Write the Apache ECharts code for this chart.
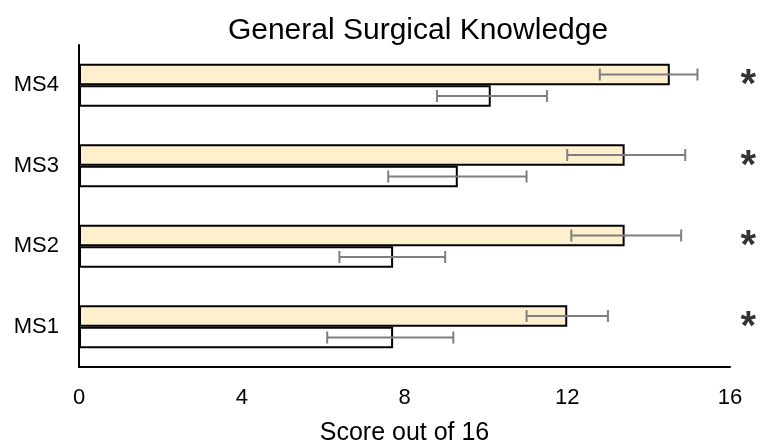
<!DOCTYPE html>
<html>
<head>
<meta charset="utf-8">
<script src="https://cdn.jsdelivr.net/npm/echarts@6/dist/echarts.min.js"></script>
<style>html,body{margin:0;padding:0;background:#fff}#c{width:762px;height:442px}</style>
</head>
<body>
<div id="c"></div>
<script>
var categories = ['MS1', 'MS2', 'MS3', 'MS4'];
var controlMean = [7.72, 7.72, 9.31, 10.12];
var controlLow = [6.1, 6.4, 7.6, 8.8];
var controlHigh = [9.2, 9.0, 11.0, 11.5];
var interventionMean = [12.0, 13.41, 13.41, 14.52];
var interventionLow = [11.0, 12.1, 12.0, 12.8];
var interventionHigh = [13.0, 14.8, 14.9, 15.2];
var significance = ['*', '*', '*', '*'];
var xTicks = [0, 4, 8, 12, 16];

var FONT = '"Liberation Sans", Arial, sans-serif';
var BAR_RATIO = 0.267;
var STAR_X = 16.45;

function errData(low, high) {
  return categories.map(function (c, i) { return [i, low[i], high[i]]; });
}
function makeErr(dir) {
  return function (params, api) {
    var cat = api.value(0);
    var p1 = api.coord([api.value(1), cat]);
    var p2 = api.coord([api.value(2), cat]);
    var band = api.size([0, 1])[1];
    var y = p1[1] + dir * band * BAR_RATIO / 2;
    var cap = 6;
    var st = { stroke: '#7f7f7f', lineWidth: 2 };
    return {
      type: 'group',
      children: [
        { type: 'line', shape: { x1: p1[0], y1: y, x2: p2[0], y2: y }, style: st },
        { type: 'line', shape: { x1: p1[0], y1: y - cap, x2: p1[0], y2: y + cap }, style: st },
        { type: 'line', shape: { x1: p2[0], y1: y - cap, x2: p2[0], y2: y + cap }, style: st }
      ]
    };
  };
}

var chart = echarts.init(document.getElementById('c'));
chart.setOption({
  animation: false,
  backgroundColor: '#fff',
  title: {
    text: 'General Surgical Knowledge',
    left: 413, top: 11, textAlign: 'center',
    textStyle: { fontFamily: FONT, fontSize: 30, fontWeight: 'normal', color: '#000' }
  },
  grid: { left: 79, right: 32, top: 45, bottom: 75, containLabel: false, outerBoundsMode: 'none' },
  xAxis: {
    type: 'value', min: 0, max: 16, interval: 4,
    axisLine: { show: true, lineStyle: { color: '#000', width: 2 } },
    axisTick: { show: false },
    splitLine: { show: false },
    axisLabel: { fontFamily: FONT, fontSize: 22, color: '#000', margin: 20,
      formatter: function (v) { return xTicks.indexOf(v) >= 0 ? String(v) : ''; } },
    name: 'Score out of 16', nameLocation: 'middle', nameGap: 54,
    nameTextStyle: { fontFamily: FONT, fontSize: 25, color: '#000' }
  },
  yAxis: {
    type: 'category', data: categories,
    axisLine: { show: true, lineStyle: { color: '#000', width: 2 } },
    axisTick: { show: false },
    axisLabel: { fontFamily: FONT, fontSize: 22, color: '#000', margin: 20 }
  },
  series: [
    {
      type: 'bar', name: 'Intervention', data: interventionMean,
      barWidth: (BAR_RATIO * 100) + '%', barGap: '0%',
      itemStyle: { color: '#fff0cd', borderColor: '#000', borderWidth: 2 }
    },
    {
      type: 'bar', name: 'Control', data: controlMean,
      barWidth: (BAR_RATIO * 100) + '%', barGap: '0%',
      itemStyle: { color: '#ffffff', borderColor: '#000', borderWidth: 2 }
    },
    {
      type: 'custom', renderItem: makeErr(1), data: errData(controlLow, controlHigh),
      encode: { x: [1, 2], y: 0 }, z: 10
    },
    {
      type: 'custom', renderItem: makeErr(-1), data: errData(interventionLow, interventionHigh),
      encode: { x: [1, 2], y: 0 }, z: 10
    },
    {
      type: 'scatter', clip: false, symbolSize: 1, itemStyle: { color: 'rgba(0,0,0,0)' },
      data: categories.map(function (c, i) { return [STAR_X, i]; }),
      label: {
        show: true, position: 'inside',
        formatter: function (p) { return significance[p.dataIndex]; },
        fontFamily: FONT, fontSize: 40, fontWeight: 'bold', color: '#000', offset: [0, 1]
      }
    }
  ]
});
</script>
</body>
</html>
